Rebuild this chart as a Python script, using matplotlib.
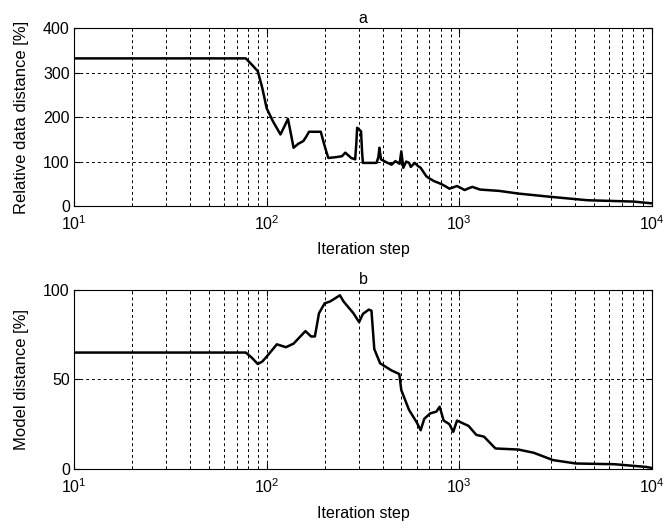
import numpy as np
import matplotlib
matplotlib.use('Agg')
import matplotlib.pyplot as plt
from matplotlib.ticker import LogLocator, NullFormatter

# ---- data ----
steps_a = [10, 78, 85, 90, 95, 100, 108, 118, 124, 129, 134, 138, 146, 155, 160, 166, 191, 200, 209,
           230, 246, 256, 275, 288, 292, 295, 302, 309, 313, 316, 372, 380, 385, 392, 420, 445, 466,
           490, 500, 512, 530, 549, 560, 587, 610, 630, 674, 700, 739, 780, 810, 850, 888, 930, 973,
           1066, 1120, 1169, 1282, 1611, 2027, 2925, 4624, 8017, 10000]
dist_a = [332, 332, 315, 303, 265, 220, 190, 161, 180, 196, 160, 131, 140, 146, 155, 167, 167, 135, 108,
          110, 112, 120, 108, 105, 140, 176, 172, 168, 120, 97, 97, 110, 131, 105, 98, 93, 101,
          95, 123, 86, 100, 97, 88, 97, 90, 86, 67, 62, 56, 52, 49, 44, 39, 42, 45,
          36, 40, 43, 37, 34, 28, 21, 13, 10, 6]

steps_b = [10, 78, 84, 90, 95, 100, 113, 126, 138, 159, 170, 178, 187, 200, 213, 223, 240, 251,
           282, 302, 316, 339, 350, 362, 388, 445, 488, 500, 548, 601, 630, 658, 706, 760, 791,
           829, 888, 930, 973, 1117, 1225, 1343, 1540, 2027, 2432, 3064, 4036, 6382, 9300, 10000]
dist_b = [65, 65, 62, 58.6, 60, 62.7, 69.6, 68, 70, 77, 74, 74, 87, 92.5, 93.5, 94.8, 97, 93.5,
          87, 82, 86.6, 89, 88.4, 67, 59, 55, 53, 44, 33, 26, 21.6, 28, 31, 32, 34.7,
          27, 25, 20.7, 27, 24, 19, 18, 11.4, 10.8, 9, 4.9, 3, 2.6, 1.1, 0.5]

yticks_a = [0, 100, 200, 300, 400]
yticks_b = [0, 50, 100]

plt.rcParams['font.family'] = ['Liberation Sans', 'DejaVu Sans']
plt.rcParams['font.size'] = 11.5
plt.rcParams['mathtext.fontset'] = 'custom'
plt.rcParams['mathtext.rm'] = 'Liberation Sans'

fig = plt.figure(figsize=(6.66, 5.31), dpi=100)
ax1 = fig.add_axes([0.111, 0.612, 0.868, 0.335])
ax2 = fig.add_axes([0.111, 0.117, 0.868, 0.337])


def style(ax, yticks, title, ylabel):
    ax.set_xscale('log')
    ax.set_xlim(10, 10000)
    ax.set_ylim(yticks[0], yticks[-1])
    ax.set_yticks(yticks)
    ax.xaxis.set_minor_locator(LogLocator(base=10, subs=np.arange(2, 10)))
    ax.xaxis.set_minor_formatter(NullFormatter())
    ax.grid(True, which='major', axis='both', color='black', linestyle=(0, (3, 3)), linewidth=0.7)
    ax.grid(True, which='minor', axis='x', color='black', linestyle=(0, (3, 3)), linewidth=0.7)
    ax.tick_params(which='both', direction='in', top=True, right=True)
    ax.tick_params(which='major', length=4)
    ax.tick_params(which='minor', length=2)
    ax.tick_params(axis='x', which='major', pad=6, labelsize=11.5)
    ax.tick_params(axis='y', labelsize=11.5, pad=3)
    ax.set_title(title, fontsize=11.5, pad=4)
    ax.set_ylabel(ylabel, fontsize=12)
    ax.yaxis.set_label_coords(-0.078, 0.5)
    ax.set_xlabel('Iteration step', fontsize=11.5)
    ax.xaxis.set_label_coords(0.5, -0.205)
    for s in ax.spines.values():
        s.set_linewidth(0.8)


ax1.plot(steps_a, dist_a, color='black', linewidth=1.8)
style(ax1, yticks_a, 'a', 'Relative data distance [%]')

ax2.plot(steps_b, dist_b, color='black', linewidth=1.8)
style(ax2, yticks_b, 'b', 'Model distance [%]')

fig.savefig('out.png', dpi=100)
